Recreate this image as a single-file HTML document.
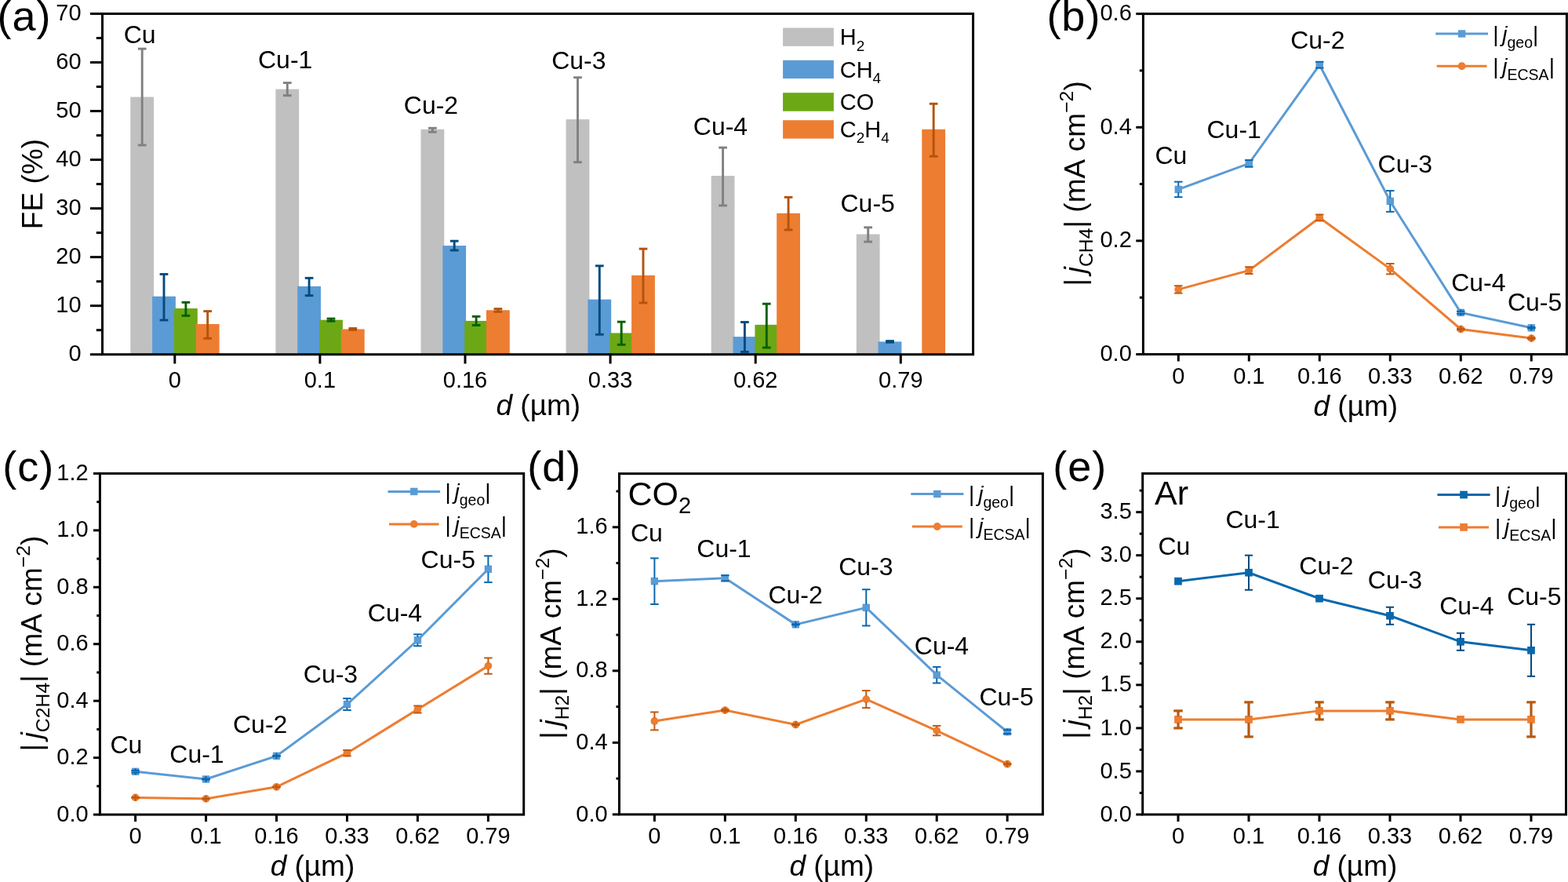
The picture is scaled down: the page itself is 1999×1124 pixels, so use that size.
<!DOCTYPE html><html><head><meta charset="utf-8"><title>Figure</title><style>html,body{margin:0;padding:0;background:#fff;}svg{display:block;}</style></head><body>
<svg width="1999" height="1124" viewBox="0 0 1999 1124" font-family="'Liberation Sans', Arial, Helvetica, sans-serif" fill="#000">
<rect width="1999" height="1124" fill="#fff"/>
<rect x="166.3" y="123.57" width="29.8" height="328.13" fill="#C0C0C0"/>
<rect x="194.1" y="377.7" width="29.8" height="74" fill="#5B9BD5"/>
<rect x="222" y="393.02" width="29.8" height="58.68" fill="#6CA815"/>
<rect x="249.8" y="412.99" width="29.8" height="38.71" fill="#ED7D31"/>
<rect x="351.4" y="113.64" width="29.8" height="338.06" fill="#C0C0C0"/>
<rect x="379.2" y="364.86" width="29.8" height="86.84" fill="#5B9BD5"/>
<rect x="407.1" y="407.66" width="29.8" height="44.04" fill="#6CA815"/>
<rect x="434.9" y="419.45" width="29.8" height="32.25" fill="#ED7D31"/>
<rect x="536.5" y="164.82" width="29.8" height="286.88" fill="#C0C0C0"/>
<rect x="564.3" y="313.07" width="29.8" height="138.63" fill="#5B9BD5"/>
<rect x="592.2" y="408.9" width="29.8" height="42.8" fill="#6CA815"/>
<rect x="620" y="395.25" width="29.8" height="56.45" fill="#ED7D31"/>
<rect x="721.6" y="152.1" width="29.8" height="299.6" fill="#C0C0C0"/>
<rect x="749.4" y="381.61" width="29.8" height="70.09" fill="#5B9BD5"/>
<rect x="777.3" y="424.41" width="29.8" height="27.29" fill="#6CA815"/>
<rect x="805.1" y="350.9" width="29.8" height="100.8" fill="#ED7D31"/>
<rect x="906.7" y="224.06" width="29.8" height="227.64" fill="#C0C0C0"/>
<rect x="934.5" y="429.12" width="29.8" height="22.58" fill="#5B9BD5"/>
<rect x="962.4" y="413.86" width="29.8" height="37.84" fill="#6CA815"/>
<rect x="990.2" y="271.82" width="29.8" height="179.88" fill="#ED7D31"/>
<rect x="1091.8" y="298.49" width="29.8" height="153.21" fill="#C0C0C0"/>
<rect x="1119.6" y="435.39" width="29.8" height="16.31" fill="#5B9BD5"/>
<rect x="1175.3" y="164.82" width="29.8" height="286.88" fill="#ED7D31"/>
<line x1="181.2" y1="62.16" x2="181.2" y2="184.98" stroke="#808080" stroke-width="2.9" stroke-linecap="butt"/>
<line x1="175.85" y1="62.16" x2="186.55" y2="62.16" stroke="#808080" stroke-width="2.9" stroke-linecap="butt"/>
<line x1="175.85" y1="184.98" x2="186.55" y2="184.98" stroke="#808080" stroke-width="2.9" stroke-linecap="butt"/>
<line x1="209" y1="349.41" x2="209" y2="407.97" stroke="#034A7E" stroke-width="2.9" stroke-linecap="butt"/>
<line x1="203.65" y1="349.41" x2="214.35" y2="349.41" stroke="#034A7E" stroke-width="2.9" stroke-linecap="butt"/>
<line x1="203.65" y1="407.97" x2="214.35" y2="407.97" stroke="#034A7E" stroke-width="2.9" stroke-linecap="butt"/>
<line x1="236.9" y1="385.33" x2="236.9" y2="402.33" stroke="#036103" stroke-width="2.9" stroke-linecap="butt"/>
<line x1="231.55" y1="385.33" x2="242.25" y2="385.33" stroke="#036103" stroke-width="2.9" stroke-linecap="butt"/>
<line x1="231.55" y1="402.33" x2="242.25" y2="402.33" stroke="#036103" stroke-width="2.9" stroke-linecap="butt"/>
<line x1="264.7" y1="396.62" x2="264.7" y2="431.29" stroke="#B4530C" stroke-width="2.9" stroke-linecap="butt"/>
<line x1="259.35" y1="396.62" x2="270.05" y2="396.62" stroke="#B4530C" stroke-width="2.9" stroke-linecap="butt"/>
<line x1="259.35" y1="431.29" x2="270.05" y2="431.29" stroke="#B4530C" stroke-width="2.9" stroke-linecap="butt"/>
<line x1="366.3" y1="105.58" x2="366.3" y2="121.71" stroke="#808080" stroke-width="2.9" stroke-linecap="butt"/>
<line x1="360.95" y1="105.58" x2="371.65" y2="105.58" stroke="#808080" stroke-width="2.9" stroke-linecap="butt"/>
<line x1="360.95" y1="121.71" x2="371.65" y2="121.71" stroke="#808080" stroke-width="2.9" stroke-linecap="butt"/>
<line x1="394.1" y1="354.32" x2="394.1" y2="376.65" stroke="#034A7E" stroke-width="2.9" stroke-linecap="butt"/>
<line x1="388.75" y1="354.32" x2="399.45" y2="354.32" stroke="#034A7E" stroke-width="2.9" stroke-linecap="butt"/>
<line x1="388.75" y1="376.65" x2="399.45" y2="376.65" stroke="#034A7E" stroke-width="2.9" stroke-linecap="butt"/>
<line x1="422" y1="406.11" x2="422" y2="409.21" stroke="#036103" stroke-width="2.9" stroke-linecap="butt"/>
<line x1="416.65" y1="406.11" x2="427.35" y2="406.11" stroke="#036103" stroke-width="2.9" stroke-linecap="butt"/>
<line x1="416.65" y1="409.21" x2="427.35" y2="409.21" stroke="#036103" stroke-width="2.9" stroke-linecap="butt"/>
<line x1="449.8" y1="418.51" x2="449.8" y2="420.38" stroke="#B4530C" stroke-width="2.9" stroke-linecap="butt"/>
<line x1="444.45" y1="418.51" x2="455.15" y2="418.51" stroke="#B4530C" stroke-width="2.9" stroke-linecap="butt"/>
<line x1="444.45" y1="420.38" x2="455.15" y2="420.38" stroke="#B4530C" stroke-width="2.9" stroke-linecap="butt"/>
<line x1="551.4" y1="163.27" x2="551.4" y2="168.23" stroke="#808080" stroke-width="2.9" stroke-linecap="butt"/>
<line x1="546.05" y1="163.27" x2="556.75" y2="163.27" stroke="#808080" stroke-width="2.9" stroke-linecap="butt"/>
<line x1="546.05" y1="168.23" x2="556.75" y2="168.23" stroke="#808080" stroke-width="2.9" stroke-linecap="butt"/>
<line x1="579.2" y1="307.17" x2="579.2" y2="318.96" stroke="#034A7E" stroke-width="2.9" stroke-linecap="butt"/>
<line x1="573.85" y1="307.17" x2="584.55" y2="307.17" stroke="#034A7E" stroke-width="2.9" stroke-linecap="butt"/>
<line x1="573.85" y1="318.96" x2="584.55" y2="318.96" stroke="#034A7E" stroke-width="2.9" stroke-linecap="butt"/>
<line x1="607.1" y1="403.32" x2="607.1" y2="414.48" stroke="#036103" stroke-width="2.9" stroke-linecap="butt"/>
<line x1="601.75" y1="403.32" x2="612.45" y2="403.32" stroke="#036103" stroke-width="2.9" stroke-linecap="butt"/>
<line x1="601.75" y1="414.48" x2="612.45" y2="414.48" stroke="#036103" stroke-width="2.9" stroke-linecap="butt"/>
<line x1="634.9" y1="393.58" x2="634.9" y2="397.3" stroke="#B4530C" stroke-width="2.9" stroke-linecap="butt"/>
<line x1="629.55" y1="393.58" x2="640.25" y2="393.58" stroke="#B4530C" stroke-width="2.9" stroke-linecap="butt"/>
<line x1="629.55" y1="397.3" x2="640.25" y2="397.3" stroke="#B4530C" stroke-width="2.9" stroke-linecap="butt"/>
<line x1="736.5" y1="98.76" x2="736.5" y2="206.69" stroke="#808080" stroke-width="2.9" stroke-linecap="butt"/>
<line x1="731.15" y1="98.76" x2="741.85" y2="98.76" stroke="#808080" stroke-width="2.9" stroke-linecap="butt"/>
<line x1="731.15" y1="206.69" x2="741.85" y2="206.69" stroke="#808080" stroke-width="2.9" stroke-linecap="butt"/>
<line x1="764.3" y1="338.81" x2="764.3" y2="426.27" stroke="#034A7E" stroke-width="2.9" stroke-linecap="butt"/>
<line x1="758.95" y1="338.81" x2="769.65" y2="338.81" stroke="#034A7E" stroke-width="2.9" stroke-linecap="butt"/>
<line x1="758.95" y1="426.27" x2="769.65" y2="426.27" stroke="#034A7E" stroke-width="2.9" stroke-linecap="butt"/>
<line x1="792.2" y1="410.14" x2="792.2" y2="439.29" stroke="#036103" stroke-width="2.9" stroke-linecap="butt"/>
<line x1="786.85" y1="410.14" x2="797.55" y2="410.14" stroke="#036103" stroke-width="2.9" stroke-linecap="butt"/>
<line x1="786.85" y1="439.29" x2="797.55" y2="439.29" stroke="#036103" stroke-width="2.9" stroke-linecap="butt"/>
<line x1="820" y1="317.1" x2="820" y2="385.95" stroke="#B4530C" stroke-width="2.9" stroke-linecap="butt"/>
<line x1="814.65" y1="317.1" x2="825.35" y2="317.1" stroke="#B4530C" stroke-width="2.9" stroke-linecap="butt"/>
<line x1="814.65" y1="385.95" x2="825.35" y2="385.95" stroke="#B4530C" stroke-width="2.9" stroke-linecap="butt"/>
<line x1="921.6" y1="188.08" x2="921.6" y2="261.89" stroke="#808080" stroke-width="2.9" stroke-linecap="butt"/>
<line x1="916.25" y1="188.08" x2="926.95" y2="188.08" stroke="#808080" stroke-width="2.9" stroke-linecap="butt"/>
<line x1="916.25" y1="261.89" x2="926.95" y2="261.89" stroke="#808080" stroke-width="2.9" stroke-linecap="butt"/>
<line x1="949.4" y1="410.51" x2="949.4" y2="448.41" stroke="#034A7E" stroke-width="2.9" stroke-linecap="butt"/>
<line x1="944.05" y1="410.51" x2="954.75" y2="410.51" stroke="#034A7E" stroke-width="2.9" stroke-linecap="butt"/>
<line x1="944.05" y1="448.41" x2="954.75" y2="448.41" stroke="#034A7E" stroke-width="2.9" stroke-linecap="butt"/>
<line x1="977.3" y1="387.19" x2="977.3" y2="443.02" stroke="#036103" stroke-width="2.9" stroke-linecap="butt"/>
<line x1="971.95" y1="387.19" x2="982.65" y2="387.19" stroke="#036103" stroke-width="2.9" stroke-linecap="butt"/>
<line x1="971.95" y1="443.02" x2="982.65" y2="443.02" stroke="#036103" stroke-width="2.9" stroke-linecap="butt"/>
<line x1="1005.1" y1="251.35" x2="1005.1" y2="292.91" stroke="#B4530C" stroke-width="2.9" stroke-linecap="butt"/>
<line x1="999.75" y1="251.35" x2="1010.45" y2="251.35" stroke="#B4530C" stroke-width="2.9" stroke-linecap="butt"/>
<line x1="999.75" y1="292.91" x2="1010.45" y2="292.91" stroke="#B4530C" stroke-width="2.9" stroke-linecap="butt"/>
<line x1="1106.7" y1="289.81" x2="1106.7" y2="308.1" stroke="#808080" stroke-width="2.9" stroke-linecap="butt"/>
<line x1="1101.35" y1="289.81" x2="1112.05" y2="289.81" stroke="#808080" stroke-width="2.9" stroke-linecap="butt"/>
<line x1="1101.35" y1="308.1" x2="1112.05" y2="308.1" stroke="#808080" stroke-width="2.9" stroke-linecap="butt"/>
<line x1="1134.5" y1="434.58" x2="1134.5" y2="436.19" stroke="#034A7E" stroke-width="2.9" stroke-linecap="butt"/>
<line x1="1129.15" y1="434.58" x2="1139.85" y2="434.58" stroke="#034A7E" stroke-width="2.9" stroke-linecap="butt"/>
<line x1="1129.15" y1="436.19" x2="1139.85" y2="436.19" stroke="#034A7E" stroke-width="2.9" stroke-linecap="butt"/>
<line x1="1190.2" y1="132.25" x2="1190.2" y2="199.24" stroke="#B4530C" stroke-width="2.9" stroke-linecap="butt"/>
<line x1="1184.85" y1="132.25" x2="1195.55" y2="132.25" stroke="#B4530C" stroke-width="2.9" stroke-linecap="butt"/>
<line x1="1184.85" y1="199.24" x2="1195.55" y2="199.24" stroke="#B4530C" stroke-width="2.9" stroke-linecap="butt"/>
<rect x="130.5" y="17.5" width="1110.1" height="434.2" fill="none" stroke="#000" stroke-width="3.0" stroke-linejoin="miter"/>
<line x1="115" y1="451.7" x2="130.5" y2="451.7" stroke="#000" stroke-width="3" stroke-linecap="butt"/>
<text x="103.6" y="460.3" font-size="29" text-anchor="end">0</text>
<line x1="115" y1="389.67" x2="130.5" y2="389.67" stroke="#000" stroke-width="3" stroke-linecap="butt"/>
<text x="103.6" y="398.27" font-size="29" text-anchor="end">10</text>
<line x1="115" y1="327.64" x2="130.5" y2="327.64" stroke="#000" stroke-width="3" stroke-linecap="butt"/>
<text x="103.6" y="336.24" font-size="29" text-anchor="end">20</text>
<line x1="115" y1="265.61" x2="130.5" y2="265.61" stroke="#000" stroke-width="3" stroke-linecap="butt"/>
<text x="103.6" y="274.21" font-size="29" text-anchor="end">30</text>
<line x1="115" y1="203.59" x2="130.5" y2="203.59" stroke="#000" stroke-width="3" stroke-linecap="butt"/>
<text x="103.6" y="212.19" font-size="29" text-anchor="end">40</text>
<line x1="115" y1="141.56" x2="130.5" y2="141.56" stroke="#000" stroke-width="3" stroke-linecap="butt"/>
<text x="103.6" y="150.16" font-size="29" text-anchor="end">50</text>
<line x1="115" y1="79.53" x2="130.5" y2="79.53" stroke="#000" stroke-width="3" stroke-linecap="butt"/>
<text x="103.6" y="88.13" font-size="29" text-anchor="end">60</text>
<line x1="115" y1="17.5" x2="130.5" y2="17.5" stroke="#000" stroke-width="3" stroke-linecap="butt"/>
<text x="103.6" y="26.1" font-size="29" text-anchor="end">70</text>
<line x1="122.8" y1="420.69" x2="130.5" y2="420.69" stroke="#000" stroke-width="3" stroke-linecap="butt"/>
<line x1="122.8" y1="358.66" x2="130.5" y2="358.66" stroke="#000" stroke-width="3" stroke-linecap="butt"/>
<line x1="122.8" y1="296.63" x2="130.5" y2="296.63" stroke="#000" stroke-width="3" stroke-linecap="butt"/>
<line x1="122.8" y1="234.6" x2="130.5" y2="234.6" stroke="#000" stroke-width="3" stroke-linecap="butt"/>
<line x1="122.8" y1="172.57" x2="130.5" y2="172.57" stroke="#000" stroke-width="3" stroke-linecap="butt"/>
<line x1="122.8" y1="110.54" x2="130.5" y2="110.54" stroke="#000" stroke-width="3" stroke-linecap="butt"/>
<line x1="122.8" y1="48.51" x2="130.5" y2="48.51" stroke="#000" stroke-width="3" stroke-linecap="butt"/>
<line x1="222.8" y1="451.7" x2="222.8" y2="463.5" stroke="#000" stroke-width="3" stroke-linecap="butt"/>
<text x="222.8" y="494" font-size="29" text-anchor="middle">0</text>
<line x1="407.9" y1="451.7" x2="407.9" y2="463.5" stroke="#000" stroke-width="3" stroke-linecap="butt"/>
<text x="407.9" y="494" font-size="29" text-anchor="middle">0.1</text>
<line x1="593" y1="451.7" x2="593" y2="463.5" stroke="#000" stroke-width="3" stroke-linecap="butt"/>
<text x="593" y="494" font-size="29" text-anchor="middle">0.16</text>
<line x1="778.1" y1="451.7" x2="778.1" y2="463.5" stroke="#000" stroke-width="3" stroke-linecap="butt"/>
<text x="778.1" y="494" font-size="29" text-anchor="middle">0.33</text>
<line x1="963.2" y1="451.7" x2="963.2" y2="463.5" stroke="#000" stroke-width="3" stroke-linecap="butt"/>
<text x="963.2" y="494" font-size="29" text-anchor="middle">0.62</text>
<line x1="1148.3" y1="451.7" x2="1148.3" y2="463.5" stroke="#000" stroke-width="3" stroke-linecap="butt"/>
<text x="1148.3" y="494" font-size="29" text-anchor="middle">0.79</text>
<text x="686.3" y="529" font-size="37" text-anchor="middle"><tspan font-style="italic">d</tspan> (µm)</text>
<text transform="translate(53.8,234.6) rotate(-90)" font-size="37" text-anchor="middle">FE (%)</text>
<text x="-3.4" y="39" font-size="54" text-anchor="start" letter-spacing="1">(a)</text>
<text x="157.65" y="55" font-size="32" text-anchor="start">Cu</text>
<text x="329" y="86.8" font-size="32" text-anchor="start">Cu-1</text>
<text x="514.8" y="145" font-size="32" text-anchor="start">Cu-2</text>
<text x="703.2" y="88.4" font-size="32" text-anchor="start">Cu-3</text>
<text x="883.8" y="171.9" font-size="32" text-anchor="start">Cu-4</text>
<text x="1071.5" y="269.6" font-size="32" text-anchor="start">Cu-5</text>
<rect x="998.1" y="35.5" width="64.8" height="23.3" fill="#C0C0C0"/>
<text x="1070.7" y="57.1" font-size="29" text-anchor="start">H<tspan font-size="19" dy="7.7">2</tspan></text>
<rect x="998.1" y="76.8" width="64.8" height="23.3" fill="#5B9BD5"/>
<text x="1070.7" y="98.5" font-size="29" text-anchor="start">CH<tspan font-size="19" dy="7.7">4</tspan></text>
<rect x="998.1" y="118.2" width="64.8" height="23.5" fill="#6CA815"/>
<text x="1070.7" y="139.6" font-size="29" text-anchor="start">CO</text>
<rect x="998.1" y="153.2" width="64.8" height="23.4" fill="#ED7D31"/>
<text x="1070.7" y="174.5" font-size="29" text-anchor="start">C<tspan font-size="19" dy="7.7">2</tspan><tspan dy="-7.7">H</tspan><tspan font-size="19" dy="7.7">4</tspan></text>
<polyline points="1502.3,241.42 1592.3,208.37 1682.3,82.69 1772.3,256.46 1862.3,398.35 1952.3,417.8" fill="none" stroke="#5B9BD5" stroke-width="3" stroke-linejoin="miter"/>
<polyline points="1502.3,368.91 1592.3,344.62 1682.3,277.43 1772.3,342.66 1862.3,419.46 1952.3,431.11" fill="none" stroke="#ED7D31" stroke-width="3" stroke-linejoin="miter"/>
<rect x="1497.6" y="236.72" width="9.4" height="9.4" fill="#5B9BD5"/>
<rect x="1587.6" y="203.67" width="9.4" height="9.4" fill="#5B9BD5"/>
<rect x="1677.6" y="77.98" width="9.4" height="9.4" fill="#5B9BD5"/>
<rect x="1767.6" y="251.76" width="9.4" height="9.4" fill="#5B9BD5"/>
<rect x="1857.6" y="393.65" width="9.4" height="9.4" fill="#5B9BD5"/>
<rect x="1947.6" y="413.1" width="9.4" height="9.4" fill="#5B9BD5"/>
<circle cx="1502.3" cy="368.91" r="4.9" fill="#ED7D31"/>
<circle cx="1592.3" cy="344.62" r="4.9" fill="#ED7D31"/>
<circle cx="1682.3" cy="277.43" r="4.9" fill="#ED7D31"/>
<circle cx="1772.3" cy="342.66" r="4.9" fill="#ED7D31"/>
<circle cx="1862.3" cy="419.46" r="4.9" fill="#ED7D31"/>
<circle cx="1952.3" cy="431.11" r="4.9" fill="#ED7D31"/>
<line x1="1502.3" y1="231.66" x2="1502.3" y2="237.42" stroke="#0A67AE" stroke-width="2" stroke-linecap="butt"/>
<line x1="1502.3" y1="245.42" x2="1502.3" y2="251.18" stroke="#0A67AE" stroke-width="2" stroke-linecap="butt"/>
<line x1="1497.05" y1="231.66" x2="1507.55" y2="231.66" stroke="#0A67AE" stroke-width="2" stroke-linecap="butt"/>
<line x1="1497.05" y1="251.18" x2="1507.55" y2="251.18" stroke="#0A67AE" stroke-width="2" stroke-linecap="butt"/>
<line x1="1592.3" y1="204.03" x2="1592.3" y2="204.37" stroke="#0A67AE" stroke-width="2" stroke-linecap="butt"/>
<line x1="1592.3" y1="212.37" x2="1592.3" y2="212.71" stroke="#0A67AE" stroke-width="2" stroke-linecap="butt"/>
<line x1="1587.05" y1="204.03" x2="1597.55" y2="204.03" stroke="#0A67AE" stroke-width="2" stroke-linecap="butt"/>
<line x1="1587.05" y1="212.71" x2="1597.55" y2="212.71" stroke="#0A67AE" stroke-width="2" stroke-linecap="butt"/>
<line x1="1682.3" y1="78.78" x2="1682.3" y2="78.69" stroke="#0A67AE" stroke-width="2" stroke-linecap="butt"/>
<line x1="1682.3" y1="86.69" x2="1682.3" y2="86.59" stroke="#0A67AE" stroke-width="2" stroke-linecap="butt"/>
<line x1="1677.05" y1="78.78" x2="1687.55" y2="78.78" stroke="#0A67AE" stroke-width="2" stroke-linecap="butt"/>
<line x1="1677.05" y1="86.59" x2="1687.55" y2="86.59" stroke="#0A67AE" stroke-width="2" stroke-linecap="butt"/>
<line x1="1772.3" y1="243.08" x2="1772.3" y2="252.46" stroke="#0A67AE" stroke-width="2" stroke-linecap="butt"/>
<line x1="1772.3" y1="260.46" x2="1772.3" y2="269.84" stroke="#0A67AE" stroke-width="2" stroke-linecap="butt"/>
<line x1="1767.05" y1="243.08" x2="1777.55" y2="243.08" stroke="#0A67AE" stroke-width="2" stroke-linecap="butt"/>
<line x1="1767.05" y1="269.84" x2="1777.55" y2="269.84" stroke="#0A67AE" stroke-width="2" stroke-linecap="butt"/>
<line x1="1862.3" y1="396.83" x2="1862.3" y2="394.35" stroke="#0A67AE" stroke-width="2" stroke-linecap="butt"/>
<line x1="1862.3" y1="402.35" x2="1862.3" y2="399.87" stroke="#0A67AE" stroke-width="2" stroke-linecap="butt"/>
<line x1="1857.05" y1="396.83" x2="1867.55" y2="396.83" stroke="#0A67AE" stroke-width="2" stroke-linecap="butt"/>
<line x1="1857.05" y1="399.87" x2="1867.55" y2="399.87" stroke="#0A67AE" stroke-width="2" stroke-linecap="butt"/>
<line x1="1952.3" y1="417.08" x2="1952.3" y2="413.8" stroke="#0A67AE" stroke-width="2" stroke-linecap="butt"/>
<line x1="1952.3" y1="421.8" x2="1952.3" y2="418.52" stroke="#0A67AE" stroke-width="2" stroke-linecap="butt"/>
<line x1="1947.05" y1="417.08" x2="1957.55" y2="417.08" stroke="#0A67AE" stroke-width="2" stroke-linecap="butt"/>
<line x1="1947.05" y1="418.52" x2="1957.55" y2="418.52" stroke="#0A67AE" stroke-width="2" stroke-linecap="butt"/>
<line x1="1502.3" y1="364.21" x2="1502.3" y2="364.91" stroke="#C05A12" stroke-width="2" stroke-linecap="butt"/>
<line x1="1502.3" y1="372.91" x2="1502.3" y2="373.61" stroke="#C05A12" stroke-width="2" stroke-linecap="butt"/>
<line x1="1497.05" y1="364.21" x2="1507.55" y2="364.21" stroke="#C05A12" stroke-width="2" stroke-linecap="butt"/>
<line x1="1497.05" y1="373.61" x2="1507.55" y2="373.61" stroke="#C05A12" stroke-width="2" stroke-linecap="butt"/>
<line x1="1592.3" y1="340.2" x2="1592.3" y2="340.62" stroke="#C05A12" stroke-width="2" stroke-linecap="butt"/>
<line x1="1592.3" y1="348.62" x2="1592.3" y2="349.03" stroke="#C05A12" stroke-width="2" stroke-linecap="butt"/>
<line x1="1587.05" y1="340.2" x2="1597.55" y2="340.2" stroke="#C05A12" stroke-width="2" stroke-linecap="butt"/>
<line x1="1587.05" y1="349.03" x2="1597.55" y2="349.03" stroke="#C05A12" stroke-width="2" stroke-linecap="butt"/>
<line x1="1682.3" y1="273.53" x2="1682.3" y2="273.43" stroke="#C05A12" stroke-width="2" stroke-linecap="butt"/>
<line x1="1682.3" y1="281.43" x2="1682.3" y2="281.34" stroke="#C05A12" stroke-width="2" stroke-linecap="butt"/>
<line x1="1677.05" y1="273.53" x2="1687.55" y2="273.53" stroke="#C05A12" stroke-width="2" stroke-linecap="butt"/>
<line x1="1677.05" y1="281.34" x2="1687.55" y2="281.34" stroke="#C05A12" stroke-width="2" stroke-linecap="butt"/>
<line x1="1772.3" y1="336.01" x2="1772.3" y2="338.66" stroke="#C05A12" stroke-width="2" stroke-linecap="butt"/>
<line x1="1772.3" y1="346.66" x2="1772.3" y2="349.32" stroke="#C05A12" stroke-width="2" stroke-linecap="butt"/>
<line x1="1767.05" y1="336.01" x2="1777.55" y2="336.01" stroke="#C05A12" stroke-width="2" stroke-linecap="butt"/>
<line x1="1767.05" y1="349.32" x2="1777.55" y2="349.32" stroke="#C05A12" stroke-width="2" stroke-linecap="butt"/>
<line x1="1862.3" y1="418.74" x2="1862.3" y2="415.46" stroke="#C05A12" stroke-width="2" stroke-linecap="butt"/>
<line x1="1862.3" y1="423.46" x2="1862.3" y2="420.19" stroke="#C05A12" stroke-width="2" stroke-linecap="butt"/>
<line x1="1857.05" y1="418.74" x2="1867.55" y2="418.74" stroke="#C05A12" stroke-width="2" stroke-linecap="butt"/>
<line x1="1857.05" y1="420.19" x2="1867.55" y2="420.19" stroke="#C05A12" stroke-width="2" stroke-linecap="butt"/>
<line x1="1952.3" y1="430.38" x2="1952.3" y2="427.11" stroke="#C05A12" stroke-width="2" stroke-linecap="butt"/>
<line x1="1952.3" y1="435.11" x2="1952.3" y2="431.83" stroke="#C05A12" stroke-width="2" stroke-linecap="butt"/>
<line x1="1947.05" y1="430.38" x2="1957.55" y2="430.38" stroke="#C05A12" stroke-width="2" stroke-linecap="butt"/>
<line x1="1947.05" y1="431.83" x2="1957.55" y2="431.83" stroke="#C05A12" stroke-width="2" stroke-linecap="butt"/>
<rect x="1457.4" y="17.6" width="540" height="433.9" fill="none" stroke="#000" stroke-width="3.0" stroke-linejoin="miter"/>
<line x1="1448.3" y1="451.5" x2="1457.4" y2="451.5" stroke="#000" stroke-width="3" stroke-linecap="butt"/>
<text x="1442.8" y="460.1" font-size="29" text-anchor="end">0.0</text>
<line x1="1448.3" y1="306.87" x2="1457.4" y2="306.87" stroke="#000" stroke-width="3" stroke-linecap="butt"/>
<text x="1442.8" y="315.47" font-size="29" text-anchor="end">0.2</text>
<line x1="1448.3" y1="162.23" x2="1457.4" y2="162.23" stroke="#000" stroke-width="3" stroke-linecap="butt"/>
<text x="1442.8" y="170.83" font-size="29" text-anchor="end">0.4</text>
<line x1="1448.3" y1="17.6" x2="1457.4" y2="17.6" stroke="#000" stroke-width="3" stroke-linecap="butt"/>
<text x="1442.8" y="26.2" font-size="29" text-anchor="end">0.6</text>
<line x1="1452.8" y1="379.18" x2="1457.4" y2="379.18" stroke="#000" stroke-width="3" stroke-linecap="butt"/>
<line x1="1452.8" y1="234.55" x2="1457.4" y2="234.55" stroke="#000" stroke-width="3" stroke-linecap="butt"/>
<line x1="1452.8" y1="89.92" x2="1457.4" y2="89.92" stroke="#000" stroke-width="3" stroke-linecap="butt"/>
<line x1="1502.3" y1="451.5" x2="1502.3" y2="460.5" stroke="#000" stroke-width="3" stroke-linecap="butt"/>
<text x="1502.3" y="488.7" font-size="29" text-anchor="middle">0</text>
<line x1="1592.3" y1="451.5" x2="1592.3" y2="460.5" stroke="#000" stroke-width="3" stroke-linecap="butt"/>
<text x="1592.3" y="488.7" font-size="29" text-anchor="middle">0.1</text>
<line x1="1682.3" y1="451.5" x2="1682.3" y2="460.5" stroke="#000" stroke-width="3" stroke-linecap="butt"/>
<text x="1682.3" y="488.7" font-size="29" text-anchor="middle">0.16</text>
<line x1="1772.3" y1="451.5" x2="1772.3" y2="460.5" stroke="#000" stroke-width="3" stroke-linecap="butt"/>
<text x="1772.3" y="488.7" font-size="29" text-anchor="middle">0.33</text>
<line x1="1862.3" y1="451.5" x2="1862.3" y2="460.5" stroke="#000" stroke-width="3" stroke-linecap="butt"/>
<text x="1862.3" y="488.7" font-size="29" text-anchor="middle">0.62</text>
<line x1="1952.3" y1="451.5" x2="1952.3" y2="460.5" stroke="#000" stroke-width="3" stroke-linecap="butt"/>
<text x="1952.3" y="488.7" font-size="29" text-anchor="middle">0.79</text>
<text x="1728.3" y="529.5" font-size="37" text-anchor="middle"><tspan font-style="italic">d</tspan> (µm)</text>
<text transform="translate(1382.9,233.85) rotate(-90)" x="0" y="0" font-size="37" text-anchor="middle">|<tspan font-style="italic" dx="6.47">j</tspan><tspan font-size="24.79" dy="9.69">CH4</tspan><tspan dy="-9.69">| (mA </tspan><tspan dx="1.4">cm</tspan><tspan font-size="24.79" dy="-15.17">−2</tspan><tspan dy="15.17">)</tspan></text>
<text x="1472.4" y="209" font-size="32" text-anchor="start">Cu</text>
<text x="1538.5" y="176" font-size="32" text-anchor="start">Cu-1</text>
<text x="1645.2" y="62.3" font-size="32" text-anchor="start">Cu-2</text>
<text x="1756.6" y="220.2" font-size="32" text-anchor="start">Cu-3</text>
<text x="1850.2" y="370.9" font-size="32" text-anchor="start">Cu-4</text>
<text x="1921.9" y="396.3" font-size="32" text-anchor="start">Cu-5</text>
<line x1="1830.2" y1="43" x2="1897" y2="43" stroke="#5B9BD5" stroke-width="3" stroke-linecap="butt"/>
<rect x="1858.9" y="38.3" width="9.4" height="9.4" fill="#5B9BD5"/>
<line x1="1831.7" y1="84.2" x2="1895.5" y2="84.2" stroke="#ED7D31" stroke-width="3" stroke-linecap="butt"/>
<circle cx="1863.6" cy="84.2" r="4.9" fill="#ED7D31"/>
<text x="1903.2" y="52.5" font-size="28">|<tspan font-style="italic" dx="4.8">j</tspan><tspan font-size="19.5" dy="8">geo</tspan><tspan dy="-8">|</tspan></text>
<text x="1903.2" y="93.7" font-size="28">|<tspan font-style="italic" dx="4.8">j</tspan><tspan font-size="19.5" dy="8">ECSA</tspan><tspan dy="-8">|</tspan></text>
<text x="1334.4" y="38.7" font-size="54" text-anchor="start" letter-spacing="1">(b)</text>
<polyline points="172.6,983.29 262.56,993 352.52,963.37 442.48,897.55 532.44,815.79 622.4,725.26" fill="none" stroke="#5B9BD5" stroke-width="3" stroke-linejoin="miter"/>
<polyline points="172.6,1016.4 262.56,1017.89 352.52,1002.78 442.48,959.67 532.44,904 622.4,848.61" fill="none" stroke="#ED7D31" stroke-width="3" stroke-linejoin="miter"/>
<rect x="167.9" y="978.59" width="9.4" height="9.4" fill="#5B9BD5"/>
<rect x="257.86" y="988.3" width="9.4" height="9.4" fill="#5B9BD5"/>
<rect x="347.82" y="958.67" width="9.4" height="9.4" fill="#5B9BD5"/>
<rect x="437.78" y="892.85" width="9.4" height="9.4" fill="#5B9BD5"/>
<rect x="527.74" y="811.09" width="9.4" height="9.4" fill="#5B9BD5"/>
<rect x="617.7" y="720.56" width="9.4" height="9.4" fill="#5B9BD5"/>
<circle cx="172.6" cy="1016.4" r="4.9" fill="#ED7D31"/>
<circle cx="262.56" cy="1017.89" r="4.9" fill="#ED7D31"/>
<circle cx="352.52" cy="1002.78" r="4.9" fill="#ED7D31"/>
<circle cx="442.48" cy="959.67" r="4.9" fill="#ED7D31"/>
<circle cx="532.44" cy="904" r="4.9" fill="#ED7D31"/>
<circle cx="622.4" cy="848.61" r="4.9" fill="#ED7D31"/>
<line x1="172.6" y1="981.95" x2="172.6" y2="979.29" stroke="#0A67AE" stroke-width="2" stroke-linecap="butt"/>
<line x1="172.6" y1="987.29" x2="172.6" y2="984.63" stroke="#0A67AE" stroke-width="2" stroke-linecap="butt"/>
<line x1="167.35" y1="981.95" x2="177.85" y2="981.95" stroke="#0A67AE" stroke-width="2" stroke-linecap="butt"/>
<line x1="167.35" y1="984.63" x2="177.85" y2="984.63" stroke="#0A67AE" stroke-width="2" stroke-linecap="butt"/>
<line x1="262.56" y1="992.49" x2="262.56" y2="989" stroke="#0A67AE" stroke-width="2" stroke-linecap="butt"/>
<line x1="262.56" y1="997" x2="262.56" y2="993.51" stroke="#0A67AE" stroke-width="2" stroke-linecap="butt"/>
<line x1="257.31" y1="992.49" x2="267.81" y2="992.49" stroke="#0A67AE" stroke-width="2" stroke-linecap="butt"/>
<line x1="257.31" y1="993.51" x2="267.81" y2="993.51" stroke="#0A67AE" stroke-width="2" stroke-linecap="butt"/>
<line x1="352.52" y1="963.01" x2="352.52" y2="959.37" stroke="#0A67AE" stroke-width="2" stroke-linecap="butt"/>
<line x1="352.52" y1="967.37" x2="352.52" y2="963.73" stroke="#0A67AE" stroke-width="2" stroke-linecap="butt"/>
<line x1="347.27" y1="963.01" x2="357.77" y2="963.01" stroke="#0A67AE" stroke-width="2" stroke-linecap="butt"/>
<line x1="347.27" y1="963.73" x2="357.77" y2="963.73" stroke="#0A67AE" stroke-width="2" stroke-linecap="butt"/>
<line x1="442.48" y1="890.12" x2="442.48" y2="893.55" stroke="#0A67AE" stroke-width="2" stroke-linecap="butt"/>
<line x1="442.48" y1="901.55" x2="442.48" y2="904.97" stroke="#0A67AE" stroke-width="2" stroke-linecap="butt"/>
<line x1="437.23" y1="890.12" x2="447.73" y2="890.12" stroke="#0A67AE" stroke-width="2" stroke-linecap="butt"/>
<line x1="437.23" y1="904.97" x2="447.73" y2="904.97" stroke="#0A67AE" stroke-width="2" stroke-linecap="butt"/>
<line x1="532.44" y1="808.36" x2="532.44" y2="811.79" stroke="#0A67AE" stroke-width="2" stroke-linecap="butt"/>
<line x1="532.44" y1="819.79" x2="532.44" y2="823.21" stroke="#0A67AE" stroke-width="2" stroke-linecap="butt"/>
<line x1="527.19" y1="808.36" x2="537.69" y2="808.36" stroke="#0A67AE" stroke-width="2" stroke-linecap="butt"/>
<line x1="527.19" y1="823.21" x2="537.69" y2="823.21" stroke="#0A67AE" stroke-width="2" stroke-linecap="butt"/>
<line x1="622.4" y1="708.42" x2="622.4" y2="721.26" stroke="#0A67AE" stroke-width="2" stroke-linecap="butt"/>
<line x1="622.4" y1="729.26" x2="622.4" y2="742.11" stroke="#0A67AE" stroke-width="2" stroke-linecap="butt"/>
<line x1="617.15" y1="708.42" x2="627.65" y2="708.42" stroke="#0A67AE" stroke-width="2" stroke-linecap="butt"/>
<line x1="617.15" y1="742.11" x2="627.65" y2="742.11" stroke="#0A67AE" stroke-width="2" stroke-linecap="butt"/>
<line x1="172.6" y1="1016.04" x2="172.6" y2="1012.4" stroke="#C05A12" stroke-width="2" stroke-linecap="butt"/>
<line x1="172.6" y1="1020.4" x2="172.6" y2="1016.76" stroke="#C05A12" stroke-width="2" stroke-linecap="butt"/>
<line x1="167.35" y1="1016.04" x2="177.85" y2="1016.04" stroke="#C05A12" stroke-width="2" stroke-linecap="butt"/>
<line x1="167.35" y1="1016.76" x2="177.85" y2="1016.76" stroke="#C05A12" stroke-width="2" stroke-linecap="butt"/>
<line x1="262.56" y1="1017.52" x2="262.56" y2="1013.89" stroke="#C05A12" stroke-width="2" stroke-linecap="butt"/>
<line x1="262.56" y1="1021.89" x2="262.56" y2="1018.25" stroke="#C05A12" stroke-width="2" stroke-linecap="butt"/>
<line x1="257.31" y1="1017.52" x2="267.81" y2="1017.52" stroke="#C05A12" stroke-width="2" stroke-linecap="butt"/>
<line x1="257.31" y1="1018.25" x2="267.81" y2="1018.25" stroke="#C05A12" stroke-width="2" stroke-linecap="butt"/>
<line x1="352.52" y1="1002.42" x2="352.52" y2="998.78" stroke="#C05A12" stroke-width="2" stroke-linecap="butt"/>
<line x1="352.52" y1="1006.78" x2="352.52" y2="1003.14" stroke="#C05A12" stroke-width="2" stroke-linecap="butt"/>
<line x1="347.27" y1="1002.42" x2="357.77" y2="1002.42" stroke="#C05A12" stroke-width="2" stroke-linecap="butt"/>
<line x1="347.27" y1="1003.14" x2="357.77" y2="1003.14" stroke="#C05A12" stroke-width="2" stroke-linecap="butt"/>
<line x1="442.48" y1="955.98" x2="442.48" y2="955.67" stroke="#C05A12" stroke-width="2" stroke-linecap="butt"/>
<line x1="442.48" y1="963.67" x2="442.48" y2="963.37" stroke="#C05A12" stroke-width="2" stroke-linecap="butt"/>
<line x1="437.23" y1="955.98" x2="447.73" y2="955.98" stroke="#C05A12" stroke-width="2" stroke-linecap="butt"/>
<line x1="437.23" y1="963.37" x2="447.73" y2="963.37" stroke="#C05A12" stroke-width="2" stroke-linecap="butt"/>
<line x1="532.44" y1="899.47" x2="532.44" y2="900" stroke="#C05A12" stroke-width="2" stroke-linecap="butt"/>
<line x1="532.44" y1="908" x2="532.44" y2="908.52" stroke="#C05A12" stroke-width="2" stroke-linecap="butt"/>
<line x1="527.19" y1="899.47" x2="537.69" y2="899.47" stroke="#C05A12" stroke-width="2" stroke-linecap="butt"/>
<line x1="527.19" y1="908.52" x2="537.69" y2="908.52" stroke="#C05A12" stroke-width="2" stroke-linecap="butt"/>
<line x1="622.4" y1="838.46" x2="622.4" y2="844.61" stroke="#C05A12" stroke-width="2" stroke-linecap="butt"/>
<line x1="622.4" y1="852.61" x2="622.4" y2="858.75" stroke="#C05A12" stroke-width="2" stroke-linecap="butt"/>
<line x1="617.15" y1="838.46" x2="627.65" y2="838.46" stroke="#C05A12" stroke-width="2" stroke-linecap="butt"/>
<line x1="617.15" y1="858.75" x2="627.65" y2="858.75" stroke="#C05A12" stroke-width="2" stroke-linecap="butt"/>
<rect x="127.4" y="603.4" width="540.3" height="434.7" fill="none" stroke="#000" stroke-width="3.0" stroke-linejoin="miter"/>
<line x1="119" y1="1038.1" x2="127.4" y2="1038.1" stroke="#000" stroke-width="3" stroke-linecap="butt"/>
<text x="112.7" y="1046.7" font-size="29" text-anchor="end">0.0</text>
<line x1="119" y1="965.65" x2="127.4" y2="965.65" stroke="#000" stroke-width="3" stroke-linecap="butt"/>
<text x="112.7" y="974.25" font-size="29" text-anchor="end">0.2</text>
<line x1="119" y1="893.2" x2="127.4" y2="893.2" stroke="#000" stroke-width="3" stroke-linecap="butt"/>
<text x="112.7" y="901.8" font-size="29" text-anchor="end">0.4</text>
<line x1="119" y1="820.75" x2="127.4" y2="820.75" stroke="#000" stroke-width="3" stroke-linecap="butt"/>
<text x="112.7" y="829.35" font-size="29" text-anchor="end">0.6</text>
<line x1="119" y1="748.3" x2="127.4" y2="748.3" stroke="#000" stroke-width="3" stroke-linecap="butt"/>
<text x="112.7" y="756.9" font-size="29" text-anchor="end">0.8</text>
<line x1="119" y1="675.85" x2="127.4" y2="675.85" stroke="#000" stroke-width="3" stroke-linecap="butt"/>
<text x="112.7" y="684.45" font-size="29" text-anchor="end">1.0</text>
<line x1="119" y1="603.4" x2="127.4" y2="603.4" stroke="#000" stroke-width="3" stroke-linecap="butt"/>
<text x="112.7" y="612" font-size="29" text-anchor="end">1.2</text>
<line x1="123.3" y1="1001.87" x2="127.4" y2="1001.87" stroke="#000" stroke-width="3" stroke-linecap="butt"/>
<line x1="123.3" y1="929.42" x2="127.4" y2="929.42" stroke="#000" stroke-width="3" stroke-linecap="butt"/>
<line x1="123.3" y1="856.97" x2="127.4" y2="856.97" stroke="#000" stroke-width="3" stroke-linecap="butt"/>
<line x1="123.3" y1="784.52" x2="127.4" y2="784.52" stroke="#000" stroke-width="3" stroke-linecap="butt"/>
<line x1="123.3" y1="712.07" x2="127.4" y2="712.07" stroke="#000" stroke-width="3" stroke-linecap="butt"/>
<line x1="123.3" y1="639.62" x2="127.4" y2="639.62" stroke="#000" stroke-width="3" stroke-linecap="butt"/>
<line x1="172.6" y1="1038.1" x2="172.6" y2="1047.1" stroke="#000" stroke-width="3" stroke-linecap="butt"/>
<text x="172.6" y="1075.3" font-size="29" text-anchor="middle">0</text>
<line x1="262.56" y1="1038.1" x2="262.56" y2="1047.1" stroke="#000" stroke-width="3" stroke-linecap="butt"/>
<text x="262.56" y="1075.3" font-size="29" text-anchor="middle">0.1</text>
<line x1="352.52" y1="1038.1" x2="352.52" y2="1047.1" stroke="#000" stroke-width="3" stroke-linecap="butt"/>
<text x="352.52" y="1075.3" font-size="29" text-anchor="middle">0.16</text>
<line x1="442.48" y1="1038.1" x2="442.48" y2="1047.1" stroke="#000" stroke-width="3" stroke-linecap="butt"/>
<text x="442.48" y="1075.3" font-size="29" text-anchor="middle">0.33</text>
<line x1="532.44" y1="1038.1" x2="532.44" y2="1047.1" stroke="#000" stroke-width="3" stroke-linecap="butt"/>
<text x="532.44" y="1075.3" font-size="29" text-anchor="middle">0.62</text>
<line x1="622.4" y1="1038.1" x2="622.4" y2="1047.1" stroke="#000" stroke-width="3" stroke-linecap="butt"/>
<text x="622.4" y="1075.3" font-size="29" text-anchor="middle">0.79</text>
<text x="398.45" y="1116.1" font-size="37" text-anchor="middle"><tspan font-style="italic">d</tspan> (µm)</text>
<text transform="translate(52.9,820.05) rotate(-90)" x="0" y="0" font-size="37" text-anchor="middle">|<tspan font-style="italic" dx="6.47">j</tspan><tspan font-size="24.79" dy="9.69">C2H4</tspan><tspan dy="-9.69">| (mA </tspan><tspan dx="1.4">cm</tspan><tspan font-size="24.79" dy="-15.17">−2</tspan><tspan dy="15.17">)</tspan></text>
<text x="140.5" y="959.6" font-size="32" text-anchor="start">Cu</text>
<text x="216.3" y="972.3" font-size="32" text-anchor="start">Cu-1</text>
<text x="297" y="934.2" font-size="32" text-anchor="start">Cu-2</text>
<text x="386.8" y="869.8" font-size="32" text-anchor="start">Cu-3</text>
<text x="468.8" y="791.8" font-size="32" text-anchor="start">Cu-4</text>
<text x="536.6" y="723.8" font-size="32" text-anchor="start">Cu-5</text>
<line x1="494.5" y1="626.4" x2="561.1" y2="626.4" stroke="#5B9BD5" stroke-width="3" stroke-linecap="butt"/>
<rect x="523.1" y="621.7" width="9.4" height="9.4" fill="#5B9BD5"/>
<line x1="496" y1="667.9" x2="559.6" y2="667.9" stroke="#ED7D31" stroke-width="3" stroke-linecap="butt"/>
<circle cx="527.8" cy="667.9" r="4.9" fill="#ED7D31"/>
<text x="567.4" y="635.9" font-size="28">|<tspan font-style="italic" dx="4.8">j</tspan><tspan font-size="19.5" dy="8">geo</tspan><tspan dy="-8">|</tspan></text>
<text x="567.4" y="677.8" font-size="28">|<tspan font-style="italic" dx="4.8">j</tspan><tspan font-size="19.5" dy="8">ECSA</tspan><tspan dy="-8">|</tspan></text>
<text x="3.3" y="613" font-size="54" text-anchor="start" letter-spacing="1">(c)</text>
<polyline points="834.4,740.69 924.36,736.8 1014.32,795.83 1104.28,774.32 1194.24,860.19 1284.2,932.65" fill="none" stroke="#5B9BD5" stroke-width="3" stroke-linejoin="miter"/>
<polyline points="834.4,918.92 924.36,905.1 1014.32,923.5 1104.28,891.1 1194.24,931.1 1284.2,973.7" fill="none" stroke="#ED7D31" stroke-width="3" stroke-linejoin="miter"/>
<rect x="829.7" y="735.99" width="9.4" height="9.4" fill="#5B9BD5"/>
<rect x="919.66" y="732.1" width="9.4" height="9.4" fill="#5B9BD5"/>
<rect x="1009.62" y="791.13" width="9.4" height="9.4" fill="#5B9BD5"/>
<rect x="1099.58" y="769.62" width="9.4" height="9.4" fill="#5B9BD5"/>
<rect x="1189.54" y="855.49" width="9.4" height="9.4" fill="#5B9BD5"/>
<rect x="1279.5" y="927.95" width="9.4" height="9.4" fill="#5B9BD5"/>
<circle cx="834.4" cy="918.92" r="4.9" fill="#ED7D31"/>
<circle cx="924.36" cy="905.1" r="4.9" fill="#ED7D31"/>
<circle cx="1014.32" cy="923.5" r="4.9" fill="#ED7D31"/>
<circle cx="1104.28" cy="891.1" r="4.9" fill="#ED7D31"/>
<circle cx="1194.24" cy="931.1" r="4.9" fill="#ED7D31"/>
<circle cx="1284.2" cy="973.7" r="4.9" fill="#ED7D31"/>
<line x1="834.4" y1="711.4" x2="834.4" y2="736.69" stroke="#0A67AE" stroke-width="2" stroke-linecap="butt"/>
<line x1="834.4" y1="744.69" x2="834.4" y2="769.98" stroke="#0A67AE" stroke-width="2" stroke-linecap="butt"/>
<line x1="829.15" y1="711.4" x2="839.65" y2="711.4" stroke="#0A67AE" stroke-width="2" stroke-linecap="butt"/>
<line x1="829.15" y1="769.98" x2="839.65" y2="769.98" stroke="#0A67AE" stroke-width="2" stroke-linecap="butt"/>
<line x1="924.36" y1="733.25" x2="924.36" y2="732.8" stroke="#0A67AE" stroke-width="2" stroke-linecap="butt"/>
<line x1="924.36" y1="740.8" x2="924.36" y2="740.35" stroke="#0A67AE" stroke-width="2" stroke-linecap="butt"/>
<line x1="919.11" y1="733.25" x2="929.61" y2="733.25" stroke="#0A67AE" stroke-width="2" stroke-linecap="butt"/>
<line x1="919.11" y1="740.35" x2="929.61" y2="740.35" stroke="#0A67AE" stroke-width="2" stroke-linecap="butt"/>
<line x1="1014.32" y1="795.37" x2="1014.32" y2="791.83" stroke="#0A67AE" stroke-width="2" stroke-linecap="butt"/>
<line x1="1014.32" y1="799.83" x2="1014.32" y2="796.29" stroke="#0A67AE" stroke-width="2" stroke-linecap="butt"/>
<line x1="1009.07" y1="795.37" x2="1019.57" y2="795.37" stroke="#0A67AE" stroke-width="2" stroke-linecap="butt"/>
<line x1="1009.07" y1="796.29" x2="1019.57" y2="796.29" stroke="#0A67AE" stroke-width="2" stroke-linecap="butt"/>
<line x1="1104.28" y1="751.21" x2="1104.28" y2="770.32" stroke="#0A67AE" stroke-width="2" stroke-linecap="butt"/>
<line x1="1104.28" y1="778.32" x2="1104.28" y2="797.43" stroke="#0A67AE" stroke-width="2" stroke-linecap="butt"/>
<line x1="1099.03" y1="751.21" x2="1109.53" y2="751.21" stroke="#0A67AE" stroke-width="2" stroke-linecap="butt"/>
<line x1="1099.03" y1="797.43" x2="1109.53" y2="797.43" stroke="#0A67AE" stroke-width="2" stroke-linecap="butt"/>
<line x1="1194.24" y1="849.9" x2="1194.24" y2="856.19" stroke="#0A67AE" stroke-width="2" stroke-linecap="butt"/>
<line x1="1194.24" y1="864.19" x2="1194.24" y2="870.49" stroke="#0A67AE" stroke-width="2" stroke-linecap="butt"/>
<line x1="1188.99" y1="849.9" x2="1199.49" y2="849.9" stroke="#0A67AE" stroke-width="2" stroke-linecap="butt"/>
<line x1="1188.99" y1="870.49" x2="1199.49" y2="870.49" stroke="#0A67AE" stroke-width="2" stroke-linecap="butt"/>
<line x1="1284.2" y1="930.36" x2="1284.2" y2="928.65" stroke="#0A67AE" stroke-width="2" stroke-linecap="butt"/>
<line x1="1284.2" y1="936.65" x2="1284.2" y2="934.94" stroke="#0A67AE" stroke-width="2" stroke-linecap="butt"/>
<line x1="1278.95" y1="930.36" x2="1289.45" y2="930.36" stroke="#0A67AE" stroke-width="2" stroke-linecap="butt"/>
<line x1="1278.95" y1="934.94" x2="1289.45" y2="934.94" stroke="#0A67AE" stroke-width="2" stroke-linecap="butt"/>
<line x1="834.4" y1="907.48" x2="834.4" y2="914.92" stroke="#C05A12" stroke-width="2" stroke-linecap="butt"/>
<line x1="834.4" y1="922.92" x2="834.4" y2="930.36" stroke="#C05A12" stroke-width="2" stroke-linecap="butt"/>
<line x1="829.15" y1="907.48" x2="839.65" y2="907.48" stroke="#C05A12" stroke-width="2" stroke-linecap="butt"/>
<line x1="829.15" y1="930.36" x2="839.65" y2="930.36" stroke="#C05A12" stroke-width="2" stroke-linecap="butt"/>
<line x1="924.36" y1="904.19" x2="924.36" y2="901.1" stroke="#C05A12" stroke-width="2" stroke-linecap="butt"/>
<line x1="924.36" y1="909.1" x2="924.36" y2="906.02" stroke="#C05A12" stroke-width="2" stroke-linecap="butt"/>
<line x1="919.11" y1="904.19" x2="929.61" y2="904.19" stroke="#C05A12" stroke-width="2" stroke-linecap="butt"/>
<line x1="919.11" y1="906.02" x2="929.61" y2="906.02" stroke="#C05A12" stroke-width="2" stroke-linecap="butt"/>
<line x1="1014.32" y1="923.04" x2="1014.32" y2="919.5" stroke="#C05A12" stroke-width="2" stroke-linecap="butt"/>
<line x1="1014.32" y1="927.5" x2="1014.32" y2="923.96" stroke="#C05A12" stroke-width="2" stroke-linecap="butt"/>
<line x1="1009.07" y1="923.04" x2="1019.57" y2="923.04" stroke="#C05A12" stroke-width="2" stroke-linecap="butt"/>
<line x1="1009.07" y1="923.96" x2="1019.57" y2="923.96" stroke="#C05A12" stroke-width="2" stroke-linecap="butt"/>
<line x1="1104.28" y1="880.12" x2="1104.28" y2="887.1" stroke="#C05A12" stroke-width="2" stroke-linecap="butt"/>
<line x1="1104.28" y1="895.1" x2="1104.28" y2="902.08" stroke="#C05A12" stroke-width="2" stroke-linecap="butt"/>
<line x1="1099.03" y1="880.12" x2="1109.53" y2="880.12" stroke="#C05A12" stroke-width="2" stroke-linecap="butt"/>
<line x1="1099.03" y1="902.08" x2="1109.53" y2="902.08" stroke="#C05A12" stroke-width="2" stroke-linecap="butt"/>
<line x1="1194.24" y1="924.92" x2="1194.24" y2="927.1" stroke="#C05A12" stroke-width="2" stroke-linecap="butt"/>
<line x1="1194.24" y1="935.1" x2="1194.24" y2="937.27" stroke="#C05A12" stroke-width="2" stroke-linecap="butt"/>
<line x1="1188.99" y1="924.92" x2="1199.49" y2="924.92" stroke="#C05A12" stroke-width="2" stroke-linecap="butt"/>
<line x1="1188.99" y1="937.27" x2="1199.49" y2="937.27" stroke="#C05A12" stroke-width="2" stroke-linecap="butt"/>
<line x1="1284.2" y1="973.24" x2="1284.2" y2="969.7" stroke="#C05A12" stroke-width="2" stroke-linecap="butt"/>
<line x1="1284.2" y1="977.7" x2="1284.2" y2="974.16" stroke="#C05A12" stroke-width="2" stroke-linecap="butt"/>
<line x1="1278.95" y1="973.24" x2="1289.45" y2="973.24" stroke="#C05A12" stroke-width="2" stroke-linecap="butt"/>
<line x1="1278.95" y1="974.16" x2="1289.45" y2="974.16" stroke="#C05A12" stroke-width="2" stroke-linecap="butt"/>
<rect x="789.5" y="603.6" width="539.9" height="434.3" fill="none" stroke="#000" stroke-width="3.0" stroke-linejoin="miter"/>
<line x1="780.8" y1="1037.9" x2="789.5" y2="1037.9" stroke="#000" stroke-width="3" stroke-linecap="butt"/>
<text x="774.7" y="1046.5" font-size="29" text-anchor="end">0.0</text>
<line x1="780.8" y1="946.38" x2="789.5" y2="946.38" stroke="#000" stroke-width="3" stroke-linecap="butt"/>
<text x="774.7" y="954.98" font-size="29" text-anchor="end">0.4</text>
<line x1="780.8" y1="854.86" x2="789.5" y2="854.86" stroke="#000" stroke-width="3" stroke-linecap="butt"/>
<text x="774.7" y="863.46" font-size="29" text-anchor="end">0.8</text>
<line x1="780.8" y1="763.34" x2="789.5" y2="763.34" stroke="#000" stroke-width="3" stroke-linecap="butt"/>
<text x="774.7" y="771.94" font-size="29" text-anchor="end">1.2</text>
<line x1="780.8" y1="671.82" x2="789.5" y2="671.82" stroke="#000" stroke-width="3" stroke-linecap="butt"/>
<text x="774.7" y="680.42" font-size="29" text-anchor="end">1.6</text>
<line x1="785.5" y1="992.14" x2="789.5" y2="992.14" stroke="#000" stroke-width="3" stroke-linecap="butt"/>
<line x1="785.5" y1="900.62" x2="789.5" y2="900.62" stroke="#000" stroke-width="3" stroke-linecap="butt"/>
<line x1="785.5" y1="809.1" x2="789.5" y2="809.1" stroke="#000" stroke-width="3" stroke-linecap="butt"/>
<line x1="785.5" y1="717.58" x2="789.5" y2="717.58" stroke="#000" stroke-width="3" stroke-linecap="butt"/>
<line x1="785.5" y1="626.06" x2="789.5" y2="626.06" stroke="#000" stroke-width="3" stroke-linecap="butt"/>
<line x1="834.4" y1="1037.9" x2="834.4" y2="1046.9" stroke="#000" stroke-width="3" stroke-linecap="butt"/>
<text x="834.4" y="1075.1" font-size="29" text-anchor="middle">0</text>
<line x1="924.36" y1="1037.9" x2="924.36" y2="1046.9" stroke="#000" stroke-width="3" stroke-linecap="butt"/>
<text x="924.36" y="1075.1" font-size="29" text-anchor="middle">0.1</text>
<line x1="1014.32" y1="1037.9" x2="1014.32" y2="1046.9" stroke="#000" stroke-width="3" stroke-linecap="butt"/>
<text x="1014.32" y="1075.1" font-size="29" text-anchor="middle">0.16</text>
<line x1="1104.28" y1="1037.9" x2="1104.28" y2="1046.9" stroke="#000" stroke-width="3" stroke-linecap="butt"/>
<text x="1104.28" y="1075.1" font-size="29" text-anchor="middle">0.33</text>
<line x1="1194.24" y1="1037.9" x2="1194.24" y2="1046.9" stroke="#000" stroke-width="3" stroke-linecap="butt"/>
<text x="1194.24" y="1075.1" font-size="29" text-anchor="middle">0.62</text>
<line x1="1284.2" y1="1037.9" x2="1284.2" y2="1046.9" stroke="#000" stroke-width="3" stroke-linecap="butt"/>
<text x="1284.2" y="1075.1" font-size="29" text-anchor="middle">0.79</text>
<text x="1060.35" y="1115.9" font-size="37" text-anchor="middle"><tspan font-style="italic">d</tspan> (µm)</text>
<text transform="translate(715,820.05) rotate(-90)" x="0" y="0" font-size="37" text-anchor="middle">|<tspan font-style="italic" dx="6.47">j</tspan><tspan font-size="24.79" dy="9.69">H2</tspan><tspan dy="-9.69">| (mA </tspan><tspan dx="1.4">cm</tspan><tspan font-size="24.79" dy="-15.17">−2</tspan><tspan dy="15.17">)</tspan></text>
<text x="803.9" y="690.2" font-size="32" text-anchor="start">Cu</text>
<text x="888.3" y="710.2" font-size="32" text-anchor="start">Cu-1</text>
<text x="979.4" y="768.6" font-size="32" text-anchor="start">Cu-2</text>
<text x="1069.2" y="733" font-size="32" text-anchor="start">Cu-3</text>
<text x="1165.8" y="833.8" font-size="32" text-anchor="start">Cu-4</text>
<text x="1248.4" y="899.4" font-size="32" text-anchor="start">Cu-5</text>
<line x1="1161.3" y1="629.5" x2="1228.4" y2="629.5" stroke="#5B9BD5" stroke-width="3" stroke-linecap="butt"/>
<rect x="1190.15" y="624.8" width="9.4" height="9.4" fill="#5B9BD5"/>
<line x1="1162.8" y1="671" x2="1226.9" y2="671" stroke="#ED7D31" stroke-width="3" stroke-linecap="butt"/>
<circle cx="1194.85" cy="671" r="4.9" fill="#ED7D31"/>
<text x="1235.1" y="639.3" font-size="28">|<tspan font-style="italic" dx="4.8">j</tspan><tspan font-size="19.5" dy="8">geo</tspan><tspan dy="-8">|</tspan></text>
<text x="1235.1" y="680.3" font-size="28">|<tspan font-style="italic" dx="4.8">j</tspan><tspan font-size="19.5" dy="8">ECSA</tspan><tspan dy="-8">|</tspan></text>
<text x="672.2" y="613.4" font-size="54" text-anchor="start" letter-spacing="1">(d)</text>
<text x="800.5" y="644.1" font-size="43">CO<tspan font-size="29" dy="10">2</tspan></text>
<polyline points="1502,740.73 1592,729.72 1682,762.75 1772,784.77 1862,817.8 1952,828.81" fill="none" stroke="#0868AC" stroke-width="3" stroke-linejoin="miter"/>
<polyline points="1502,916.89 1592,916.89 1682,905.88 1772,905.88 1862,916.89 1952,916.89" fill="none" stroke="#ED7D31" stroke-width="3" stroke-linejoin="miter"/>
<rect x="1497.15" y="735.88" width="9.7" height="9.7" fill="#0868AC"/>
<rect x="1587.15" y="724.87" width="9.7" height="9.7" fill="#0868AC"/>
<rect x="1677.15" y="757.9" width="9.7" height="9.7" fill="#0868AC"/>
<rect x="1767.15" y="779.92" width="9.7" height="9.7" fill="#0868AC"/>
<rect x="1857.15" y="812.95" width="9.7" height="9.7" fill="#0868AC"/>
<rect x="1947.15" y="823.96" width="9.7" height="9.7" fill="#0868AC"/>
<rect x="1497.15" y="912.04" width="9.7" height="9.7" fill="#ED7D31"/>
<rect x="1587.15" y="912.04" width="9.7" height="9.7" fill="#ED7D31"/>
<rect x="1677.15" y="901.03" width="9.7" height="9.7" fill="#ED7D31"/>
<rect x="1767.15" y="901.03" width="9.7" height="9.7" fill="#ED7D31"/>
<rect x="1857.15" y="912.04" width="9.7" height="9.7" fill="#ED7D31"/>
<rect x="1947.15" y="912.04" width="9.7" height="9.7" fill="#ED7D31"/>
<line x1="1592" y1="707.7" x2="1592" y2="725.57" stroke="#03497F" stroke-width="2" stroke-linecap="butt"/>
<line x1="1592" y1="733.87" x2="1592" y2="751.74" stroke="#03497F" stroke-width="2" stroke-linecap="butt"/>
<line x1="1586.9" y1="707.7" x2="1597.1" y2="707.7" stroke="#03497F" stroke-width="2" stroke-linecap="butt"/>
<line x1="1586.9" y1="751.74" x2="1597.1" y2="751.74" stroke="#03497F" stroke-width="2" stroke-linecap="butt"/>
<line x1="1772" y1="773.76" x2="1772" y2="780.62" stroke="#03497F" stroke-width="2" stroke-linecap="butt"/>
<line x1="1772" y1="788.92" x2="1772" y2="795.78" stroke="#03497F" stroke-width="2" stroke-linecap="butt"/>
<line x1="1766.9" y1="773.76" x2="1777.1" y2="773.76" stroke="#03497F" stroke-width="2" stroke-linecap="butt"/>
<line x1="1766.9" y1="795.78" x2="1777.1" y2="795.78" stroke="#03497F" stroke-width="2" stroke-linecap="butt"/>
<line x1="1862" y1="806.79" x2="1862" y2="813.65" stroke="#03497F" stroke-width="2" stroke-linecap="butt"/>
<line x1="1862" y1="821.95" x2="1862" y2="828.81" stroke="#03497F" stroke-width="2" stroke-linecap="butt"/>
<line x1="1856.9" y1="806.79" x2="1867.1" y2="806.79" stroke="#03497F" stroke-width="2" stroke-linecap="butt"/>
<line x1="1856.9" y1="828.81" x2="1867.1" y2="828.81" stroke="#03497F" stroke-width="2" stroke-linecap="butt"/>
<line x1="1952" y1="795.78" x2="1952" y2="824.66" stroke="#03497F" stroke-width="2" stroke-linecap="butt"/>
<line x1="1952" y1="832.96" x2="1952" y2="861.84" stroke="#03497F" stroke-width="2" stroke-linecap="butt"/>
<line x1="1946.9" y1="795.78" x2="1957.1" y2="795.78" stroke="#03497F" stroke-width="2" stroke-linecap="butt"/>
<line x1="1946.9" y1="861.84" x2="1957.1" y2="861.84" stroke="#03497F" stroke-width="2" stroke-linecap="butt"/>
<line x1="1502" y1="905.88" x2="1502" y2="912.74" stroke="#B8580E" stroke-width="3.2" stroke-linecap="butt"/>
<line x1="1502" y1="921.04" x2="1502" y2="927.9" stroke="#B8580E" stroke-width="3.2" stroke-linecap="butt"/>
<line x1="1496.25" y1="905.88" x2="1507.75" y2="905.88" stroke="#B8580E" stroke-width="3.2" stroke-linecap="butt"/>
<line x1="1496.25" y1="927.9" x2="1507.75" y2="927.9" stroke="#B8580E" stroke-width="3.2" stroke-linecap="butt"/>
<line x1="1592" y1="894.87" x2="1592" y2="912.74" stroke="#B8580E" stroke-width="3.2" stroke-linecap="butt"/>
<line x1="1592" y1="921.04" x2="1592" y2="938.91" stroke="#B8580E" stroke-width="3.2" stroke-linecap="butt"/>
<line x1="1586.25" y1="894.87" x2="1597.75" y2="894.87" stroke="#B8580E" stroke-width="3.2" stroke-linecap="butt"/>
<line x1="1586.25" y1="938.91" x2="1597.75" y2="938.91" stroke="#B8580E" stroke-width="3.2" stroke-linecap="butt"/>
<line x1="1682" y1="894.87" x2="1682" y2="901.73" stroke="#B8580E" stroke-width="3.2" stroke-linecap="butt"/>
<line x1="1682" y1="910.03" x2="1682" y2="916.89" stroke="#B8580E" stroke-width="3.2" stroke-linecap="butt"/>
<line x1="1676.25" y1="894.87" x2="1687.75" y2="894.87" stroke="#B8580E" stroke-width="3.2" stroke-linecap="butt"/>
<line x1="1676.25" y1="916.89" x2="1687.75" y2="916.89" stroke="#B8580E" stroke-width="3.2" stroke-linecap="butt"/>
<line x1="1772" y1="894.87" x2="1772" y2="901.73" stroke="#B8580E" stroke-width="3.2" stroke-linecap="butt"/>
<line x1="1772" y1="910.03" x2="1772" y2="916.89" stroke="#B8580E" stroke-width="3.2" stroke-linecap="butt"/>
<line x1="1766.25" y1="894.87" x2="1777.75" y2="894.87" stroke="#B8580E" stroke-width="3.2" stroke-linecap="butt"/>
<line x1="1766.25" y1="916.89" x2="1777.75" y2="916.89" stroke="#B8580E" stroke-width="3.2" stroke-linecap="butt"/>
<line x1="1952" y1="894.87" x2="1952" y2="912.74" stroke="#B8580E" stroke-width="3.2" stroke-linecap="butt"/>
<line x1="1952" y1="921.04" x2="1952" y2="938.91" stroke="#B8580E" stroke-width="3.2" stroke-linecap="butt"/>
<line x1="1946.25" y1="894.87" x2="1957.75" y2="894.87" stroke="#B8580E" stroke-width="3.2" stroke-linecap="butt"/>
<line x1="1946.25" y1="938.91" x2="1957.75" y2="938.91" stroke="#B8580E" stroke-width="3.2" stroke-linecap="butt"/>
<rect x="1456.7" y="603.4" width="539.8" height="434.6" fill="none" stroke="#000" stroke-width="3.0" stroke-linejoin="miter"/>
<line x1="1448.3" y1="1038" x2="1456.7" y2="1038" stroke="#000" stroke-width="3" stroke-linecap="butt"/>
<text x="1442.8" y="1046.6" font-size="29" text-anchor="end">0.0</text>
<line x1="1448.3" y1="982.95" x2="1456.7" y2="982.95" stroke="#000" stroke-width="3" stroke-linecap="butt"/>
<text x="1442.8" y="991.55" font-size="29" text-anchor="end">0.5</text>
<line x1="1448.3" y1="927.9" x2="1456.7" y2="927.9" stroke="#000" stroke-width="3" stroke-linecap="butt"/>
<text x="1442.8" y="936.5" font-size="29" text-anchor="end">1.0</text>
<line x1="1448.3" y1="872.85" x2="1456.7" y2="872.85" stroke="#000" stroke-width="3" stroke-linecap="butt"/>
<text x="1442.8" y="881.45" font-size="29" text-anchor="end">1.5</text>
<line x1="1448.3" y1="817.8" x2="1456.7" y2="817.8" stroke="#000" stroke-width="3" stroke-linecap="butt"/>
<text x="1442.8" y="826.4" font-size="29" text-anchor="end">2.0</text>
<line x1="1448.3" y1="762.75" x2="1456.7" y2="762.75" stroke="#000" stroke-width="3" stroke-linecap="butt"/>
<text x="1442.8" y="771.35" font-size="29" text-anchor="end">2.5</text>
<line x1="1448.3" y1="707.7" x2="1456.7" y2="707.7" stroke="#000" stroke-width="3" stroke-linecap="butt"/>
<text x="1442.8" y="716.3" font-size="29" text-anchor="end">3.0</text>
<line x1="1448.3" y1="652.65" x2="1456.7" y2="652.65" stroke="#000" stroke-width="3" stroke-linecap="butt"/>
<text x="1442.8" y="661.25" font-size="29" text-anchor="end">3.5</text>
<line x1="1452.7" y1="1010.48" x2="1456.7" y2="1010.48" stroke="#000" stroke-width="3" stroke-linecap="butt"/>
<line x1="1452.7" y1="955.42" x2="1456.7" y2="955.42" stroke="#000" stroke-width="3" stroke-linecap="butt"/>
<line x1="1452.7" y1="900.38" x2="1456.7" y2="900.38" stroke="#000" stroke-width="3" stroke-linecap="butt"/>
<line x1="1452.7" y1="845.33" x2="1456.7" y2="845.33" stroke="#000" stroke-width="3" stroke-linecap="butt"/>
<line x1="1452.7" y1="790.27" x2="1456.7" y2="790.27" stroke="#000" stroke-width="3" stroke-linecap="butt"/>
<line x1="1452.7" y1="735.23" x2="1456.7" y2="735.23" stroke="#000" stroke-width="3" stroke-linecap="butt"/>
<line x1="1452.7" y1="680.17" x2="1456.7" y2="680.17" stroke="#000" stroke-width="3" stroke-linecap="butt"/>
<line x1="1452.7" y1="625.12" x2="1456.7" y2="625.12" stroke="#000" stroke-width="3" stroke-linecap="butt"/>
<line x1="1502" y1="1038" x2="1502" y2="1047" stroke="#000" stroke-width="3" stroke-linecap="butt"/>
<text x="1502" y="1075.2" font-size="29" text-anchor="middle">0</text>
<line x1="1592" y1="1038" x2="1592" y2="1047" stroke="#000" stroke-width="3" stroke-linecap="butt"/>
<text x="1592" y="1075.2" font-size="29" text-anchor="middle">0.1</text>
<line x1="1682" y1="1038" x2="1682" y2="1047" stroke="#000" stroke-width="3" stroke-linecap="butt"/>
<text x="1682" y="1075.2" font-size="29" text-anchor="middle">0.16</text>
<line x1="1772" y1="1038" x2="1772" y2="1047" stroke="#000" stroke-width="3" stroke-linecap="butt"/>
<text x="1772" y="1075.2" font-size="29" text-anchor="middle">0.33</text>
<line x1="1862" y1="1038" x2="1862" y2="1047" stroke="#000" stroke-width="3" stroke-linecap="butt"/>
<text x="1862" y="1075.2" font-size="29" text-anchor="middle">0.62</text>
<line x1="1952" y1="1038" x2="1952" y2="1047" stroke="#000" stroke-width="3" stroke-linecap="butt"/>
<text x="1952" y="1075.2" font-size="29" text-anchor="middle">0.79</text>
<text x="1727.5" y="1116" font-size="37" text-anchor="middle"><tspan font-style="italic">d</tspan> (µm)</text>
<text transform="translate(1382.2,820) rotate(-90)" x="0" y="0" font-size="37" text-anchor="middle">|<tspan font-style="italic" dx="6.47">j</tspan><tspan font-size="24.79" dy="9.69">H2</tspan><tspan dy="-9.69">| (mA </tspan><tspan dx="1.4">cm</tspan><tspan font-size="24.79" dy="-15.17">−2</tspan><tspan dy="15.17">)</tspan></text>
<text x="1476.5" y="706.8" font-size="32" text-anchor="start">Cu</text>
<text x="1562.4" y="672.9" font-size="32" text-anchor="start">Cu-1</text>
<text x="1656.3" y="731.7" font-size="32" text-anchor="start">Cu-2</text>
<text x="1743.8" y="750" font-size="32" text-anchor="start">Cu-3</text>
<text x="1835.2" y="782.6" font-size="32" text-anchor="start">Cu-4</text>
<text x="1921.2" y="770.6" font-size="32" text-anchor="start">Cu-5</text>
<line x1="1832.5" y1="630.5" x2="1899.6" y2="630.5" stroke="#0868AC" stroke-width="3" stroke-linecap="butt"/>
<rect x="1861.2" y="625.65" width="9.7" height="9.7" fill="#0868AC"/>
<line x1="1834" y1="671.9" x2="1898.1" y2="671.9" stroke="#ED7D31" stroke-width="3" stroke-linecap="butt"/>
<rect x="1861.2" y="667.05" width="9.7" height="9.7" fill="#ED7D31"/>
<text x="1905.9" y="640.2" font-size="28">|<tspan font-style="italic" dx="4.8">j</tspan><tspan font-size="19.5" dy="8">geo</tspan><tspan dy="-8">|</tspan></text>
<text x="1905.9" y="681.2" font-size="28">|<tspan font-style="italic" dx="4.8">j</tspan><tspan font-size="19.5" dy="8">ECSA</tspan><tspan dy="-8">|</tspan></text>
<text x="1342.2" y="613.4" font-size="54" text-anchor="start" letter-spacing="1">(e)</text>
<text x="1472" y="643.1" font-size="43">Ar</text>
</svg></body></html>
